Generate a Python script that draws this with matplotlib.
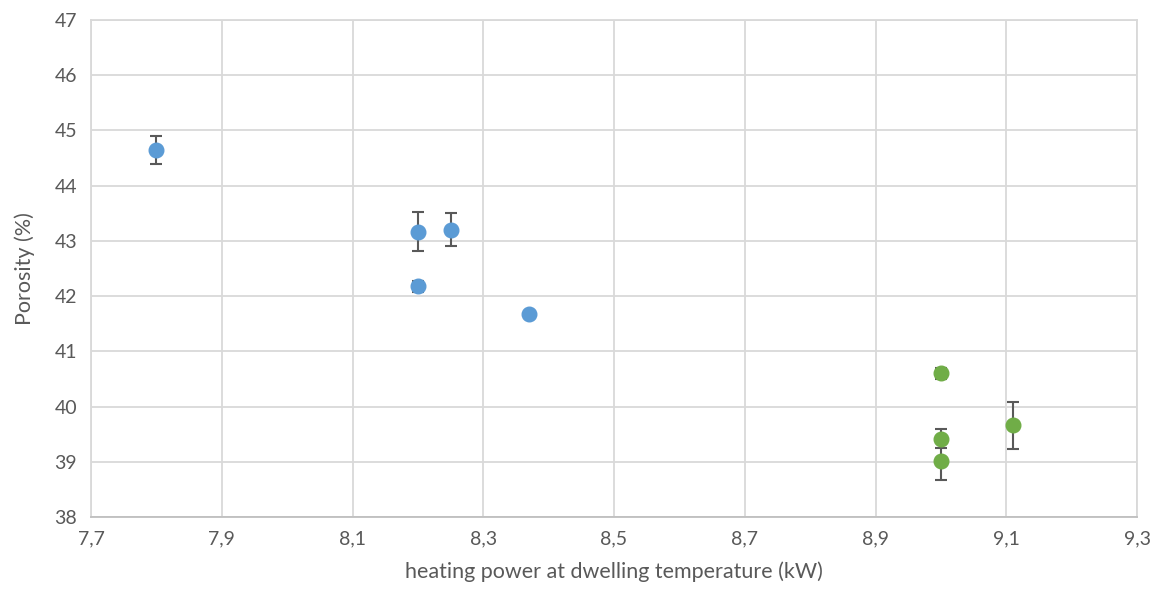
import matplotlib
matplotlib.use("Agg")
import matplotlib.pyplot as plt
from matplotlib.ticker import FuncFormatter, FixedLocator, MultipleLocator

blue_x = [7.8, 8.2, 8.25, 8.2, 8.37]
blue_y = [44.65, 43.17, 43.2, 42.18, 41.68]
blue_err = [0.25, 0.35, 0.3, 0.1, 0.0]

green_x = [9.0, 9.0, 9.0, 9.11]
green_y = [40.6, 39.42, 39.02, 39.66]
green_err = [0.1, 0.17, 0.35, 0.42]

x_ticks = [7.7, 7.9, 8.1, 8.3, 8.5, 8.7, 8.9, 9.1, 9.3]
xlabel = "heating power at dwelling temperature (kW)"
ylabel = "Porosity (%)"

plt.rcParams['font.family'] = ['Lato', 'DejaVu Sans']
fig = plt.figure(figsize=(11.54, 6.01), dpi=100)
ax = fig.add_axes([0.0789, 0.1398, 0.9064, 0.8269])

grid_c = "#D9D9D9"
err_c = "#595959"
ax.errorbar(blue_x, blue_y, yerr=blue_err, fmt='o', color='#5B9BD5', ms=10.5,
            ecolor=err_c, elinewidth=1.5, capsize=4, capthick=1.5, zorder=3)
ax.errorbar(green_x, green_y, yerr=green_err, fmt='o', color='#70AD47', ms=10.5,
            ecolor=err_c, elinewidth=1.5, capsize=4, capthick=1.5, zorder=3)

ax.set_xlim(7.7, 9.3)
ax.set_ylim(38, 47)
ax.xaxis.set_major_locator(FixedLocator(x_ticks))
ax.yaxis.set_major_locator(MultipleLocator(1))
ax.xaxis.set_major_formatter(FuncFormatter(lambda v, p: f"{v:.1f}".replace('.', ',')))
ax.yaxis.set_major_formatter(FuncFormatter(lambda v, p: f"{v:.0f}"))
ax.grid(True, color=grid_c, linewidth=1.3)
ax.set_axisbelow(True)
for s in ax.spines.values():
    s.set_color(grid_c)
    s.set_linewidth(1.3)
ax.spines['bottom'].set_color('#BFBFBF')
ax.tick_params(length=0, labelsize=14, colors='#595959', pad=10)
ax.set_xlabel(xlabel, fontsize=15.5, color='#595959', labelpad=10)
ax.set_ylabel(ylabel, fontsize=15.5, color='#595959', labelpad=14)

fig.savefig("out.png", dpi=100)
